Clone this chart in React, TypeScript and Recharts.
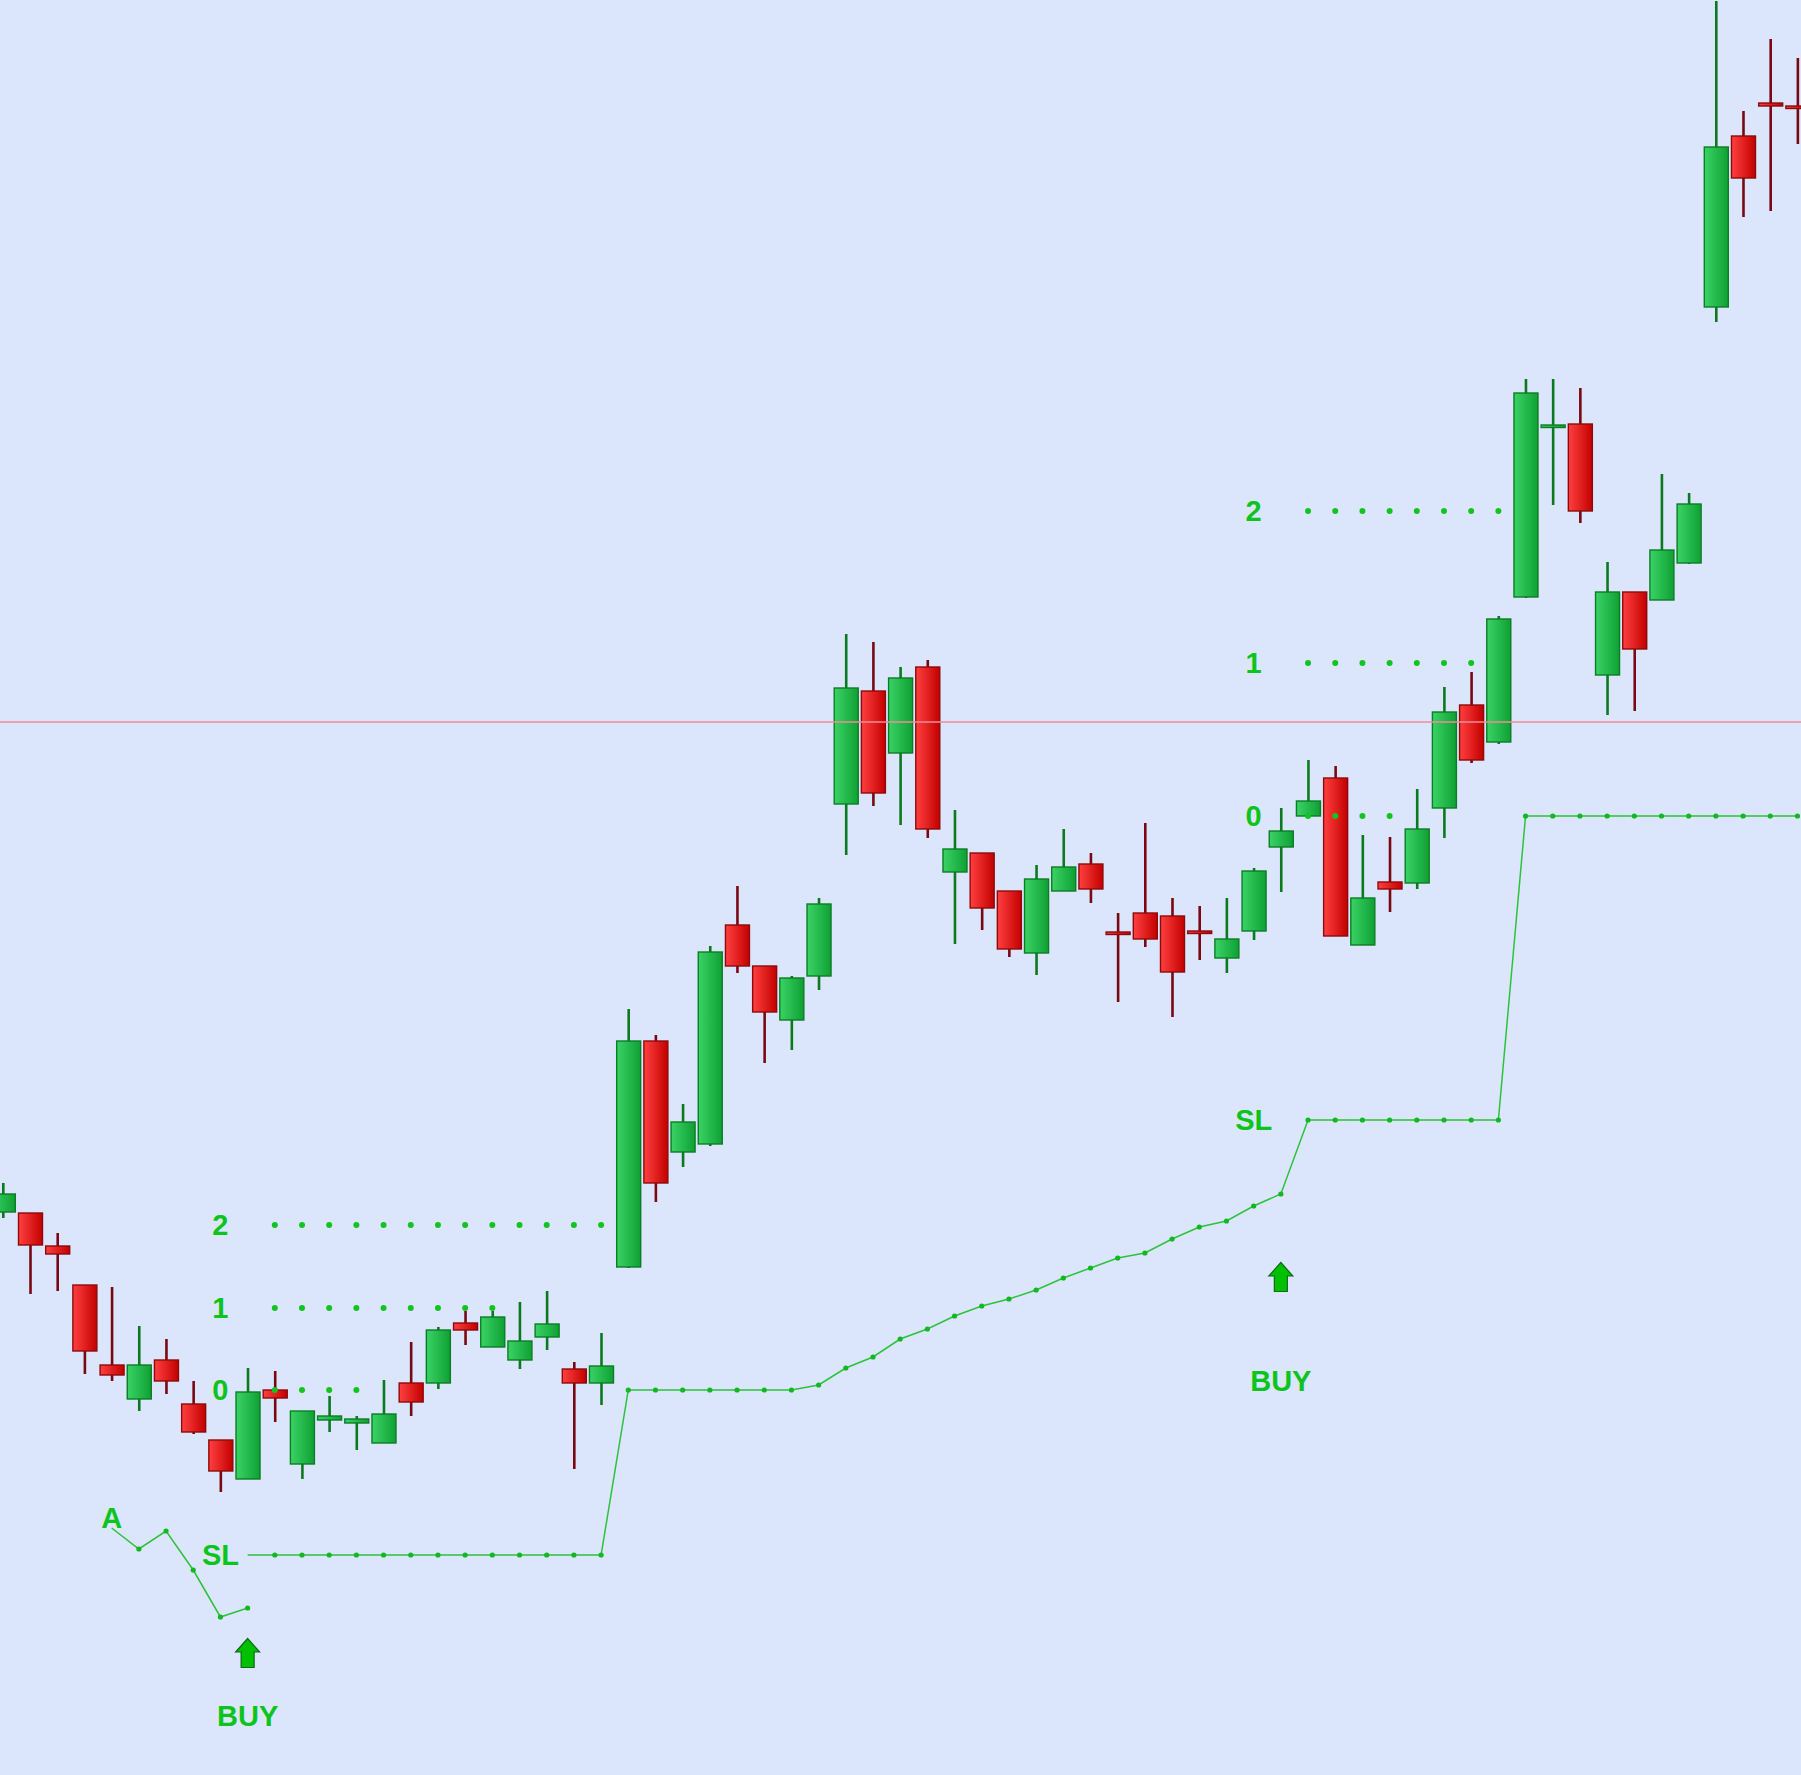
import React from 'react';
import {
  ComposedChart,
  Bar,
  Line,
  Scatter,
  XAxis,
  YAxis,
  ReferenceLine,
} from 'recharts';

// price per bar (bar 0 = leftmost)
const OPEN = [
  563, 562, 529, 490, 410, 376, 415, 371, 335, 296, 385, 311, 355, 352, 332, 392, 392, 452, 428, 415,
  438, 406, 392, 508, 734, 623, 631, 850, 809, 755, 799, 971, 1084, 1022, 1108, 903, 922, 884, 822, 884,
  911, 843, 862, 859, 844, 817, 844, 928, 959, 997, 830, 893, 892, 967, 1070, 1033, 1178, 1349, 1351, 1100,
  1183, 1175, 1212, 1468, 1639, 1672, 1669,
];
const HIGH = [
  592, 562, 542, 490, 488, 449, 436, 394, 335, 407, 404, 364, 379, 359, 395, 433, 448, 464, 464, 473,
  484, 413, 442, 766, 740, 671, 829, 889, 809, 799, 877, 1141, 1133, 1108, 1115, 965, 922, 884, 910, 946,
  922, 862, 952, 877, 869, 877, 907, 967, 1015, 1009, 940, 938, 986, 1088, 1103, 1159, 1396, 1396, 1387, 1213,
  1183, 1301, 1282, 1774, 1664, 1736, 1717,
];
const LOW = [
  557, 481, 484, 401, 394, 364, 381, 341, 283, 296, 353, 296, 343, 325, 332, 359, 386, 430, 428, 406,
  425, 306, 370, 507, 573, 608, 629, 802, 712, 725, 785, 920, 969, 950, 937, 831, 845, 818, 800, 884,
  872, 773, 828, 758, 815, 802, 835, 883, 959, 839, 830, 863, 886, 937, 1012, 1031, 1177, 1270, 1252, 1060,
  1064, 1175, 1211, 1453, 1558, 1564, 1631,
];
const CLOSE = [
  581, 530, 521, 424, 400, 410, 394, 343, 304, 383, 377, 364, 359, 356, 361, 373, 445, 445, 458, 434,
  451, 392, 409, 734, 592, 653, 823, 809, 763, 797, 871, 1087, 982, 1097, 946, 926, 867, 826, 896, 908,
  886, 841, 836, 803, 842, 836, 904, 944, 974, 839, 877, 886, 946, 1063, 1015, 1156, 1382, 1350, 1264, 1183,
  1126, 1225, 1271, 1628, 1597, 1669, 1667,
];

// trailing stop line
const STOP_LINE = [
  null, null, null, null, null, null, null, null, null,
  220, 220, 220, 220, 220, 220, 220, 220, 220, 220, 220, 220, 220, 220,
  385, 385, 385, 385, 385, 385, 385,
  390, 407, 418, 436, 446, 459, 469, 476, 485, 497, 507, 517, 522, 536,
  548, 554, 569, 581,
  655, 655, 655, 655, 655, 655, 655, 655,
  959, 959, 959, 959, 959, 959, 959, 959, 959, 959, 959,
];
const STOP_FROM = 9;

// "A" swing path
const A_PATH = [
  null, null, null, null, 247, 226, 244, 205, 158, 167,
];
const A_FROM = 4;

// target levels (dotted)
const LEVEL_PRICE = [550, 467, 385, 1264, 1112, 959];
const LEVEL_FROM = [10, 10, 10, 48, 48, 48];
const LEVEL_TO = [22, 18, 13, 55, 54, 51];

// text marks
const LABEL_TEXT = ['2', '1', '0', 'SL', 'A', 'BUY', '2', '1', '0', 'SL', 'BUY'];
const LABEL_BAR = [8, 8, 8, 8, 4, 9, 46, 46, 46, 46, 47];
const LABEL_PRICE = [550, 467, 385, 220, 257, 59, 1264, 1112, 959, 655, 394];

// buy arrows
const ARROW_BAR = [9, 47];
const ARROW_PRICE = [122, 498];

const RESISTANCE = 1053;

const BG = '#dbe6fd';
const GREEN_TEXT = '#0cc41c';
const LINE_GREEN = '#2cc23c';

const rows = OPEN.map((open, i) => ({
  i,
  open,
  close: CLOSE[i],
  high: HIGH[i],
  low: LOW[i],
  range: [LOW[i], HIGH[i]],
  sl: STOP_LINE[i] ?? null,
  a: A_PATH[i] ?? null,
}));

const levelDots = LEVEL_PRICE.flatMap((price, k) => {
  const pts: { i: number; price: number }[] = [];
  for (let i = LEVEL_FROM[k]; i <= LEVEL_TO[k]; i++) pts.push({ i, price });
  return pts;
});

const labels = LABEL_TEXT.map((text, k) => ({
  i: LABEL_BAR[k],
  price: LABEL_PRICE[k],
  text,
}));

const arrows = ARROW_BAR.map((i, k) => ({ i, price: ARROW_PRICE[k] }));

function Candle(props: any) {
  const { x, y, width, height, payload } = props;
  if (x == null || y == null || !payload) return <g />;
  const { open, close, high, low } = payload;
  const top = Math.min(y, y + height);
  const h = Math.abs(height);
  const span = high - low || 1;
  const py = (v: number) => top + ((high - v) / span) * h;
  const up = close >= open;
  const cx = x + width / 2;
  const bTop = py(Math.max(open, close));
  let bBot = py(Math.min(open, close));
  if (bBot - bTop < 2.5) bBot = bTop + 2.5;
  return (
    <g>
      <line
        x1={cx}
        x2={cx}
        y1={top}
        y2={top + h}
        stroke={up ? '#0b7a1e' : '#7a0812'}
        strokeWidth={2.6}
      />
      <rect
        x={x}
        y={bTop}
        width={width}
        height={bBot - bTop}
        fill={up ? 'url(#bodyUp)' : 'url(#bodyDown)'}
        stroke={up ? '#0b7d24' : '#8e0a0a'}
        strokeWidth={1.4}
      />
    </g>
  );
}

const lineDot = (first: number) => (p: any) => {
  const key = `d-${p.index}`;
  if (p.value == null || p.cy == null || p.payload?.i === first) return <g key={key} />;
  return <circle key={key} cx={p.cx} cy={p.cy} r={2.6} fill="#12b822" />;
};

const levelDot = (p: any) => <circle cx={p.cx} cy={p.cy} r={3} fill="#11c41f" />;

const labelShape = (p: any) => (
  <text
    x={p.cx}
    y={p.cy}
    textAnchor="middle"
    dominantBaseline="central"
    fontFamily="'Liberation Sans', Arial, sans-serif"
    fontWeight="bold"
    fontSize={29}
    fill={GREEN_TEXT}
  >
    {p.payload.text}
  </text>
);

const arrowShape = (p: any) => {
  const { cx, cy } = p;
  const d = `M${cx} ${cy - 14.5} L${cx + 12} ${cy - 1} L${cx + 6.5} ${cy - 1} L${cx + 6.5} ${cy + 14.5} L${cx - 6.5} ${cy + 14.5} L${cx - 6.5} ${cy - 1} L${cx - 12} ${cy - 1} Z`;
  return <path d={d} fill="#00c000" stroke="#0b6b16" strokeWidth={1.2} />;
};

export default function App() {
  return (
    <div
      style={{
        position: 'absolute',
        left: 0,
        top: 0,
        width: 1801,
        height: 1775,
        background: BG,
      }}
    >
      <ComposedChart
        width={1801}
        height={1775}
        data={rows}
        margin={{ top: 0, right: 0, bottom: 0, left: 0 }}
      >
        <defs>
          <linearGradient id="bodyUp" x1="0" y1="0" x2="1" y2="0">
            <stop offset="0%" stopColor="#3ad366" />
            <stop offset="100%" stopColor="#10a034" />
          </linearGradient>
          <linearGradient id="bodyDown" x1="0" y1="0" x2="1" y2="0">
            <stop offset="0%" stopColor="#ff4040" />
            <stop offset="100%" stopColor="#c40000" />
          </linearGradient>
        </defs>
        <XAxis type="number" dataKey="i" domain={[-0.107, 66.13]} hide allowDataOverflow />
        <YAxis type="number" domain={[0, 1775]} hide allowDataOverflow />
        <Bar
          dataKey="range"
          barSize={24}
          shape={<Candle />}
          isAnimationActive={false}
        />
        <ReferenceLine y={RESISTANCE} stroke="#f08c96" strokeWidth={1.6} />
        <Line
          dataKey="a"
          stroke={LINE_GREEN}
          strokeWidth={1.5}
          dot={lineDot(A_FROM)}
          activeDot={false}
          isAnimationActive={false}
        />
        <Line
          dataKey="sl"
          stroke={LINE_GREEN}
          strokeWidth={1.5}
          dot={lineDot(STOP_FROM)}
          activeDot={false}
          isAnimationActive={false}
        />
        <Scatter data={levelDots} dataKey="price" shape={levelDot} isAnimationActive={false} />
        <Scatter data={labels} dataKey="price" shape={labelShape} isAnimationActive={false} />
        <Scatter data={arrows} dataKey="price" shape={arrowShape} isAnimationActive={false} />
      </ComposedChart>
    </div>
  );
}
